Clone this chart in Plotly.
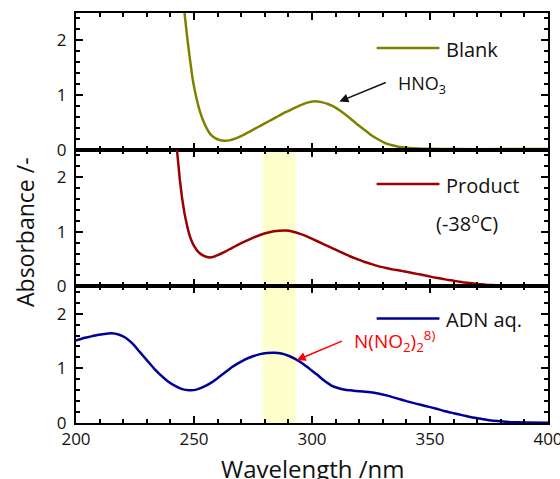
import plotly.graph_objects as go
from plotly.subplots import make_subplots

# ---------------- data ----------------
blank_wl = [245.5, 246, 247, 248, 249.4, 251, 252.5, 254, 255.5, 257, 259, 261, 263, 265, 268, 271, 274,
            277, 280, 283, 286, 289, 292, 295, 298, 301, 304, 307, 310, 313, 316, 319, 322, 325, 328,
            331, 334, 337, 340, 345, 350, 360, 380, 400]
blank_abs = [2.7, 2.5, 2.1, 1.75, 1.3, 0.95, 0.7, 0.52, 0.38, 0.28, 0.21, 0.175, 0.165, 0.17, 0.21, 0.27, 0.34,
             0.41, 0.48, 0.55, 0.62, 0.69, 0.75, 0.81, 0.86, 0.885, 0.87, 0.83, 0.77, 0.68, 0.58, 0.47, 0.37,
             0.27, 0.19, 0.12, 0.08, 0.05, 0.035, 0.02, 0.015, 0.01, 0.01, 0.01]

product_wl = [242.5, 243, 244, 245, 246, 247, 248, 249, 250, 252, 254, 256, 258, 260, 263, 266, 270, 274,
              278, 282, 286, 289, 292, 295, 298, 301, 304, 307, 310, 313, 316, 319, 322, 325, 328, 331,
              334, 337, 340, 343, 346, 349, 352, 355, 358, 361, 364, 367, 370, 374, 378, 382, 390, 400]
product_abs = [2.6, 2.4, 1.95, 1.6, 1.33, 1.12, 0.95, 0.83, 0.74, 0.62, 0.56, 0.53, 0.535, 0.57, 0.63, 0.7,
               0.79, 0.87, 0.94, 0.99, 1.015, 1.02, 1.0, 0.96, 0.91, 0.85, 0.79, 0.73, 0.67, 0.61, 0.55, 0.5,
               0.45, 0.41, 0.37, 0.34, 0.31, 0.29, 0.265, 0.24, 0.215, 0.19, 0.16, 0.14, 0.115, 0.095, 0.075,
               0.06, 0.045, 0.03, 0.02, 0.012, 0.005, 0.005]

adn_wl = [200, 203, 206, 209, 212, 215, 218, 221, 224, 227, 230, 233, 236, 239, 242, 245, 248, 251, 254,
          257, 260, 263, 266, 269, 272, 275, 278, 281, 284, 287, 290, 293, 296, 299, 302, 305, 308, 311,
          314, 317, 320, 324, 328, 332, 336, 340, 344, 348, 352, 356, 360, 364, 368, 372, 376, 380, 385,
          390, 400]
adn_abs = [1.51, 1.55, 1.58, 1.61, 1.63, 1.64, 1.62, 1.56, 1.45, 1.3, 1.15, 1.0, 0.87, 0.76, 0.68, 0.62,
           0.6, 0.61, 0.66, 0.73, 0.82, 0.92, 1.02, 1.1, 1.17, 1.22, 1.26, 1.28, 1.285, 1.27, 1.23, 1.17,
           1.09, 0.99, 0.89, 0.78, 0.69, 0.64, 0.61, 0.595, 0.58, 0.565, 0.54, 0.5, 0.45, 0.4, 0.355, 0.31,
           0.27, 0.22, 0.18, 0.14, 0.1, 0.075, 0.045, 0.03, 0.015, 0.01, 0.005]

series_names = ["Blank", "Product", "ADN aq."]
band_wl = [279, 293]
x_ticks = [200, 250, 300, 350, 400]
y_ticks = [0, 1, 2]

colors = ["#808000", "#9a0000", "#000099"]
FONT = "Open Sans"
TXT = "#111"

fig = make_subplots(rows=3, cols=1, shared_xaxes=True, vertical_spacing=0)

for i, (wl, ab) in enumerate([(blank_wl, blank_abs), (product_wl, product_abs), (adn_wl, adn_abs)]):
    fig.add_trace(go.Scatter(x=wl, y=ab, mode="lines",
                             line=dict(color=colors[i], width=2.5, shape="spline", smoothing=0.4),
                             name=series_names[i], showlegend=False), row=i + 1, col=1)

# highlighted band across panels 2 and 3
fig.add_shape(type="rect", xref="x", yref="paper", x0=band_wl[0], x1=band_wl[1], y0=0, y1=2 / 3,
              fillcolor="#ffffcc", line=dict(width=0), layer="below")

# legend-like line samples and labels
leg_y = [1.86, 1.87, 1.91]
for i in range(3):
    xr = "x" if i == 0 else f"x{i+1}"
    yr = "y" if i == 0 else f"y{i+1}"
    fig.add_shape(type="line", xref=xr, yref=yr, x0=327.4, x1=354, y0=leg_y[i], y1=leg_y[i],
                  line=dict(color=colors[i], width=2.5))
    fig.add_annotation(xref=xr, yref=yr, x=355.8, y=leg_y[i] - 0.02, text=series_names[i], showarrow=False,
                       xanchor="left", yanchor="middle", font=dict(family=FONT, size=20, color=TXT))

fig.add_annotation(xref="x2", yref="y2", x=351.5, y=1.17, text="(-38<sup>o</sup>C)", showarrow=False,
                   xanchor="left", yanchor="middle", font=dict(family=FONT, size=20, color=TXT))

# HNO3 arrow + label
fig.add_annotation(xref="x", yref="y", x=311.6, y=0.88, axref="x", ayref="y", ax=331.9, ay=1.24, text="",
                   showarrow=True, arrowhead=2, arrowsize=1.2, arrowwidth=1.5, arrowcolor=TXT)
fig.add_annotation(xref="x", yref="y", x=335.5, y=1.2, text="HNO<sub>3</sub>", showarrow=False,
                   xanchor="left", yanchor="middle", font=dict(family=FONT, size=18, color=TXT))

# N(NO2)2 arrow + label
fig.add_annotation(xref="x3", yref="y3", x=293.5, y=1.15, axref="x3", ayref="y3", ax=313.3, ay=1.51, text="",
                   showarrow=True, arrowhead=2, arrowsize=1.2, arrowwidth=1.5, arrowcolor="red")
fig.add_annotation(xref="x3", yref="y3", x=317.0, y=1.5, text="N(NO<sub>2</sub>)<sub>2</sub><sup>8)</sup>",
                   showarrow=False, xanchor="left", yanchor="middle", font=dict(family=FONT, size=19, color="red"))

# axis titles
fig.add_annotation(xref="paper", yref="paper", x=-0.108, y=0.466, text="Absorbance /-", textangle=-90,
                   showarrow=False, xanchor="center", yanchor="middle", font=dict(family=FONT, size=23, color=TXT))
fig.add_annotation(xref="paper", yref="paper", x=0.502, y=-0.066, text="Wavelength /nm",
                   showarrow=False, xanchor="center", yanchor="top", font=dict(family=FONT, size=24, color=TXT))

for r in range(1, 4):
    fig.update_xaxes(range=[200, 400], tickvals=x_ticks, ticks="inside", ticklen=7, tickwidth=1.5,
                     tickcolor="black", showline=True, linecolor="black", linewidth=2, mirror="ticks",
                     showgrid=False, zeroline=False, automargin=False, ticklabeloverflow="allow",
                     minor=dict(dtick=10, tick0=200, ticks="inside", ticklen=4, tickwidth=1.5, tickcolor="black"),
                     showticklabels=(r == 3), tickfont=dict(family=FONT, size=17, color=TXT),
                     row=r, col=1)
    fig.update_yaxes(range=[0, 2.5], tickvals=y_ticks, ticks="inside", ticklen=7, tickwidth=1.5,
                     tickcolor="black", showline=True, linecolor="black", linewidth=2, mirror="ticks",
                     showgrid=False, zeroline=False, automargin=False,
                     minor=dict(dtick=0.2, tick0=0, ticks="inside", ticklen=4, tickwidth=1.5, tickcolor="black"),
                     tickfont=dict(family=FONT, size=17, color=TXT), ticklabelstandoff=4,
                     row=r, col=1)

fig.update_layout(width=560, height=479, margin=dict(l=76, r=12, t=13, b=56, autoexpand=False),
                  plot_bgcolor="white", paper_bgcolor="white", showlegend=False,
                  font=dict(family=FONT))

fig.write_html("out.html")
